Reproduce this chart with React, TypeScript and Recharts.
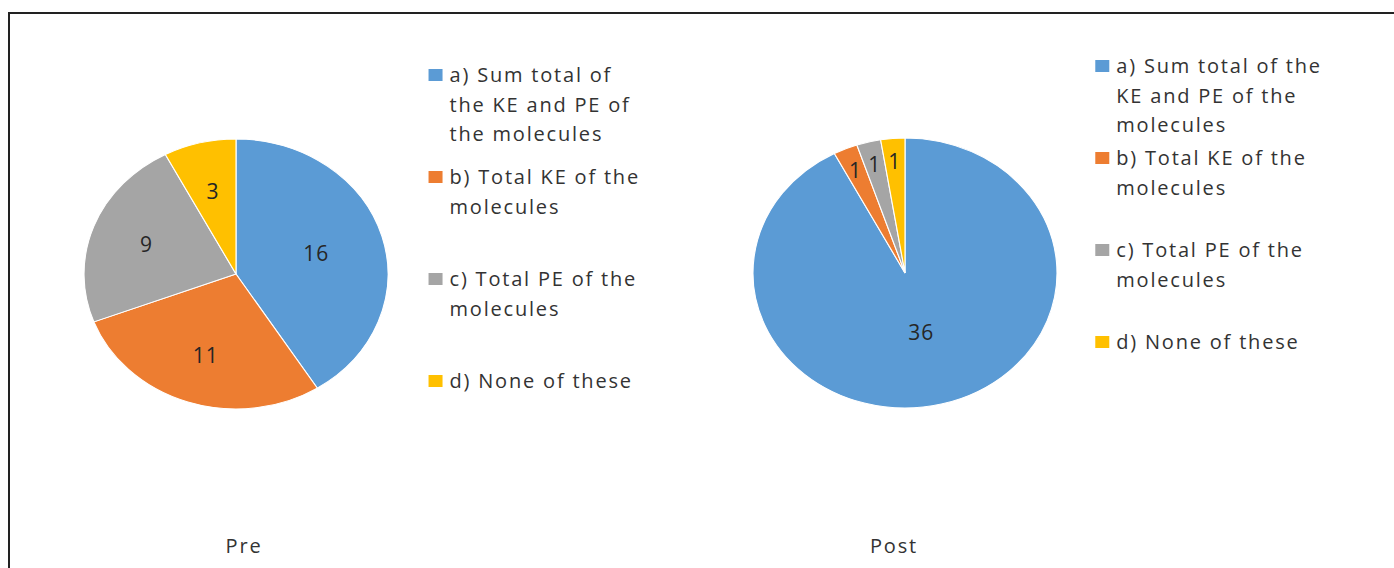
import React from "react";
import { PieChart, Pie, Cell, Legend } from "recharts";

const CATEGORIES = [
  "a) Sum total of the KE and PE of the molecules",
  "b) Total KE of the molecules",
  "c) Total PE of the molecules",
  "d) None of these",
];
const PRE_VALUES = [16, 11, 9, 3];
const POST_VALUES = [36, 1, 1, 1];
const COLORS = ["#5B9BD5", "#ED7D31", "#A5A5A5", "#FFC000"];

const FONT = '"Open Sans", sans-serif';
// Excel stretched the pies horizontally (152px wide radius vs 135px tall)
const SX = 152 / 135;
const RADIAN = Math.PI / 180;

const buildData = (values: number[]) =>
  CATEGORIES.map((name, i) => ({ name, value: values[i], color: COLORS[i] }));

function renderLabel(props: any) {
  const { cx, cy, midAngle, outerRadius, percent, value } = props;
  const f = percent > 0.5 ? 0.45 : percent > 0.3 ? 0.55 : percent < 0.05 ? 0.83 : 0.63;
  const r = outerRadius * f;
  const x = cx + r * Math.cos(-midAngle * RADIAN);
  const y = cy + r * Math.sin(-midAngle * RADIAN);
  // undo the horizontal stretch of the wrapper so digits keep their shape
  return (
    <text
      x={x}
      y={y}
      transform={`translate(${x} ${y}) scale(${1 / SX} 1) translate(${-x} ${-y})`}
      fill="#262626"
      textAnchor="middle"
      dominantBaseline="central"
      style={{ fontFamily: FONT, fontSize: 21, letterSpacing: 1 }}
    >
      {value}
    </text>
  );
}

function LegendBox({ payload, itemHeight, textWidth }: any) {
  return (
    <div
      style={{
        transform: `scaleX(${1 / SX})`,
        transformOrigin: "0 0",
        fontFamily: FONT,
        fontSize: 20,
        letterSpacing: 1.8,
        color: "#333",
      }}
    >
      {(payload || []).map((p: any, i: number) => (
        <div key={i} style={{ display: "flex", height: itemHeight, alignItems: "flex-start" }}>
          <div
            style={{
              width: 14,
              height: 12,
              marginTop: 9,
              marginRight: 7,
              flex: "none",
              background: p.color,
            }}
          />
          <div style={{ width: textWidth, lineHeight: "29.5px" }}>{p.value}</div>
        </div>
      ))}
    </div>
  );
}

function OnePie({ values, left, cx, cy, legendLeft, legendTop, itemHeight, textWidth }: any) {
  const data = buildData(values);
  return (
    <div
      style={{
        position: "absolute",
        left,
        top: 0,
        transform: `scaleX(${SX})`,
        transformOrigin: `${cx}px 0px`,
      }}
    >
      <PieChart width={697} height={568} margin={{ top: 0, right: 0, bottom: 0, left: 0 }}>
        <Pie
          data={data}
          dataKey="value"
          nameKey="name"
          cx={cx}
          cy={cy}
          outerRadius={135}
          startAngle={90}
          endAngle={-270}
          stroke="#fff"
          strokeWidth={1}
          label={renderLabel}
          labelLine={false}
          isAnimationActive={false}
        >
          {data.map((d, i) => (
            <Cell key={i} fill={d.color} />
          ))}
        </Pie>
        <Legend
          layout="vertical"
          align="right"
          verticalAlign="top"
          wrapperStyle={{ left: cx + (legendLeft - cx) / SX, top: legendTop, width: 260 }}
          content={(p: any) => (
            <LegendBox payload={p.payload} itemHeight={itemHeight} textWidth={textWidth} />
          )}
        />
      </PieChart>
    </div>
  );
}

const titleStyle: React.CSSProperties = {
  position: "absolute",
  top: 531,
  width: 120,
  textAlign: "center",
  fontFamily: FONT,
  fontSize: 20,
  letterSpacing: 1.8,
  lineHeight: "30px",
  color: "#333",
};

export default function App() {
  return (
    <div
      style={{
        position: "absolute",
        left: 0,
        top: 0,
        width: 1394,
        height: 568,
        overflow: "hidden",
        background: "#fff",
      }}
    >
      <div
        style={{
          position: "absolute",
          left: 8,
          top: 12,
          width: 1400,
          height: 600,
          borderLeft: "2px solid #222",
          borderTop: "2px solid #222",
        }}
      />
      <OnePie
        values={PRE_VALUES}
        left={0}
        cx={236}
        cy={274}
        legendLeft={429}
        legendTop={60}
        itemHeight={102}
        textWidth={196}
      />
      <OnePie
        values={POST_VALUES}
        left={697}
        cx={208}
        cy={273}
        legendLeft={398}
        legendTop={51}
        itemHeight={92}
        textWidth={214}
      />
      <div style={{ ...titleStyle, left: 244 - 60 }}>Pre</div>
      <div style={{ ...titleStyle, left: 894 - 60 }}>Post</div>
    </div>
  );
}
